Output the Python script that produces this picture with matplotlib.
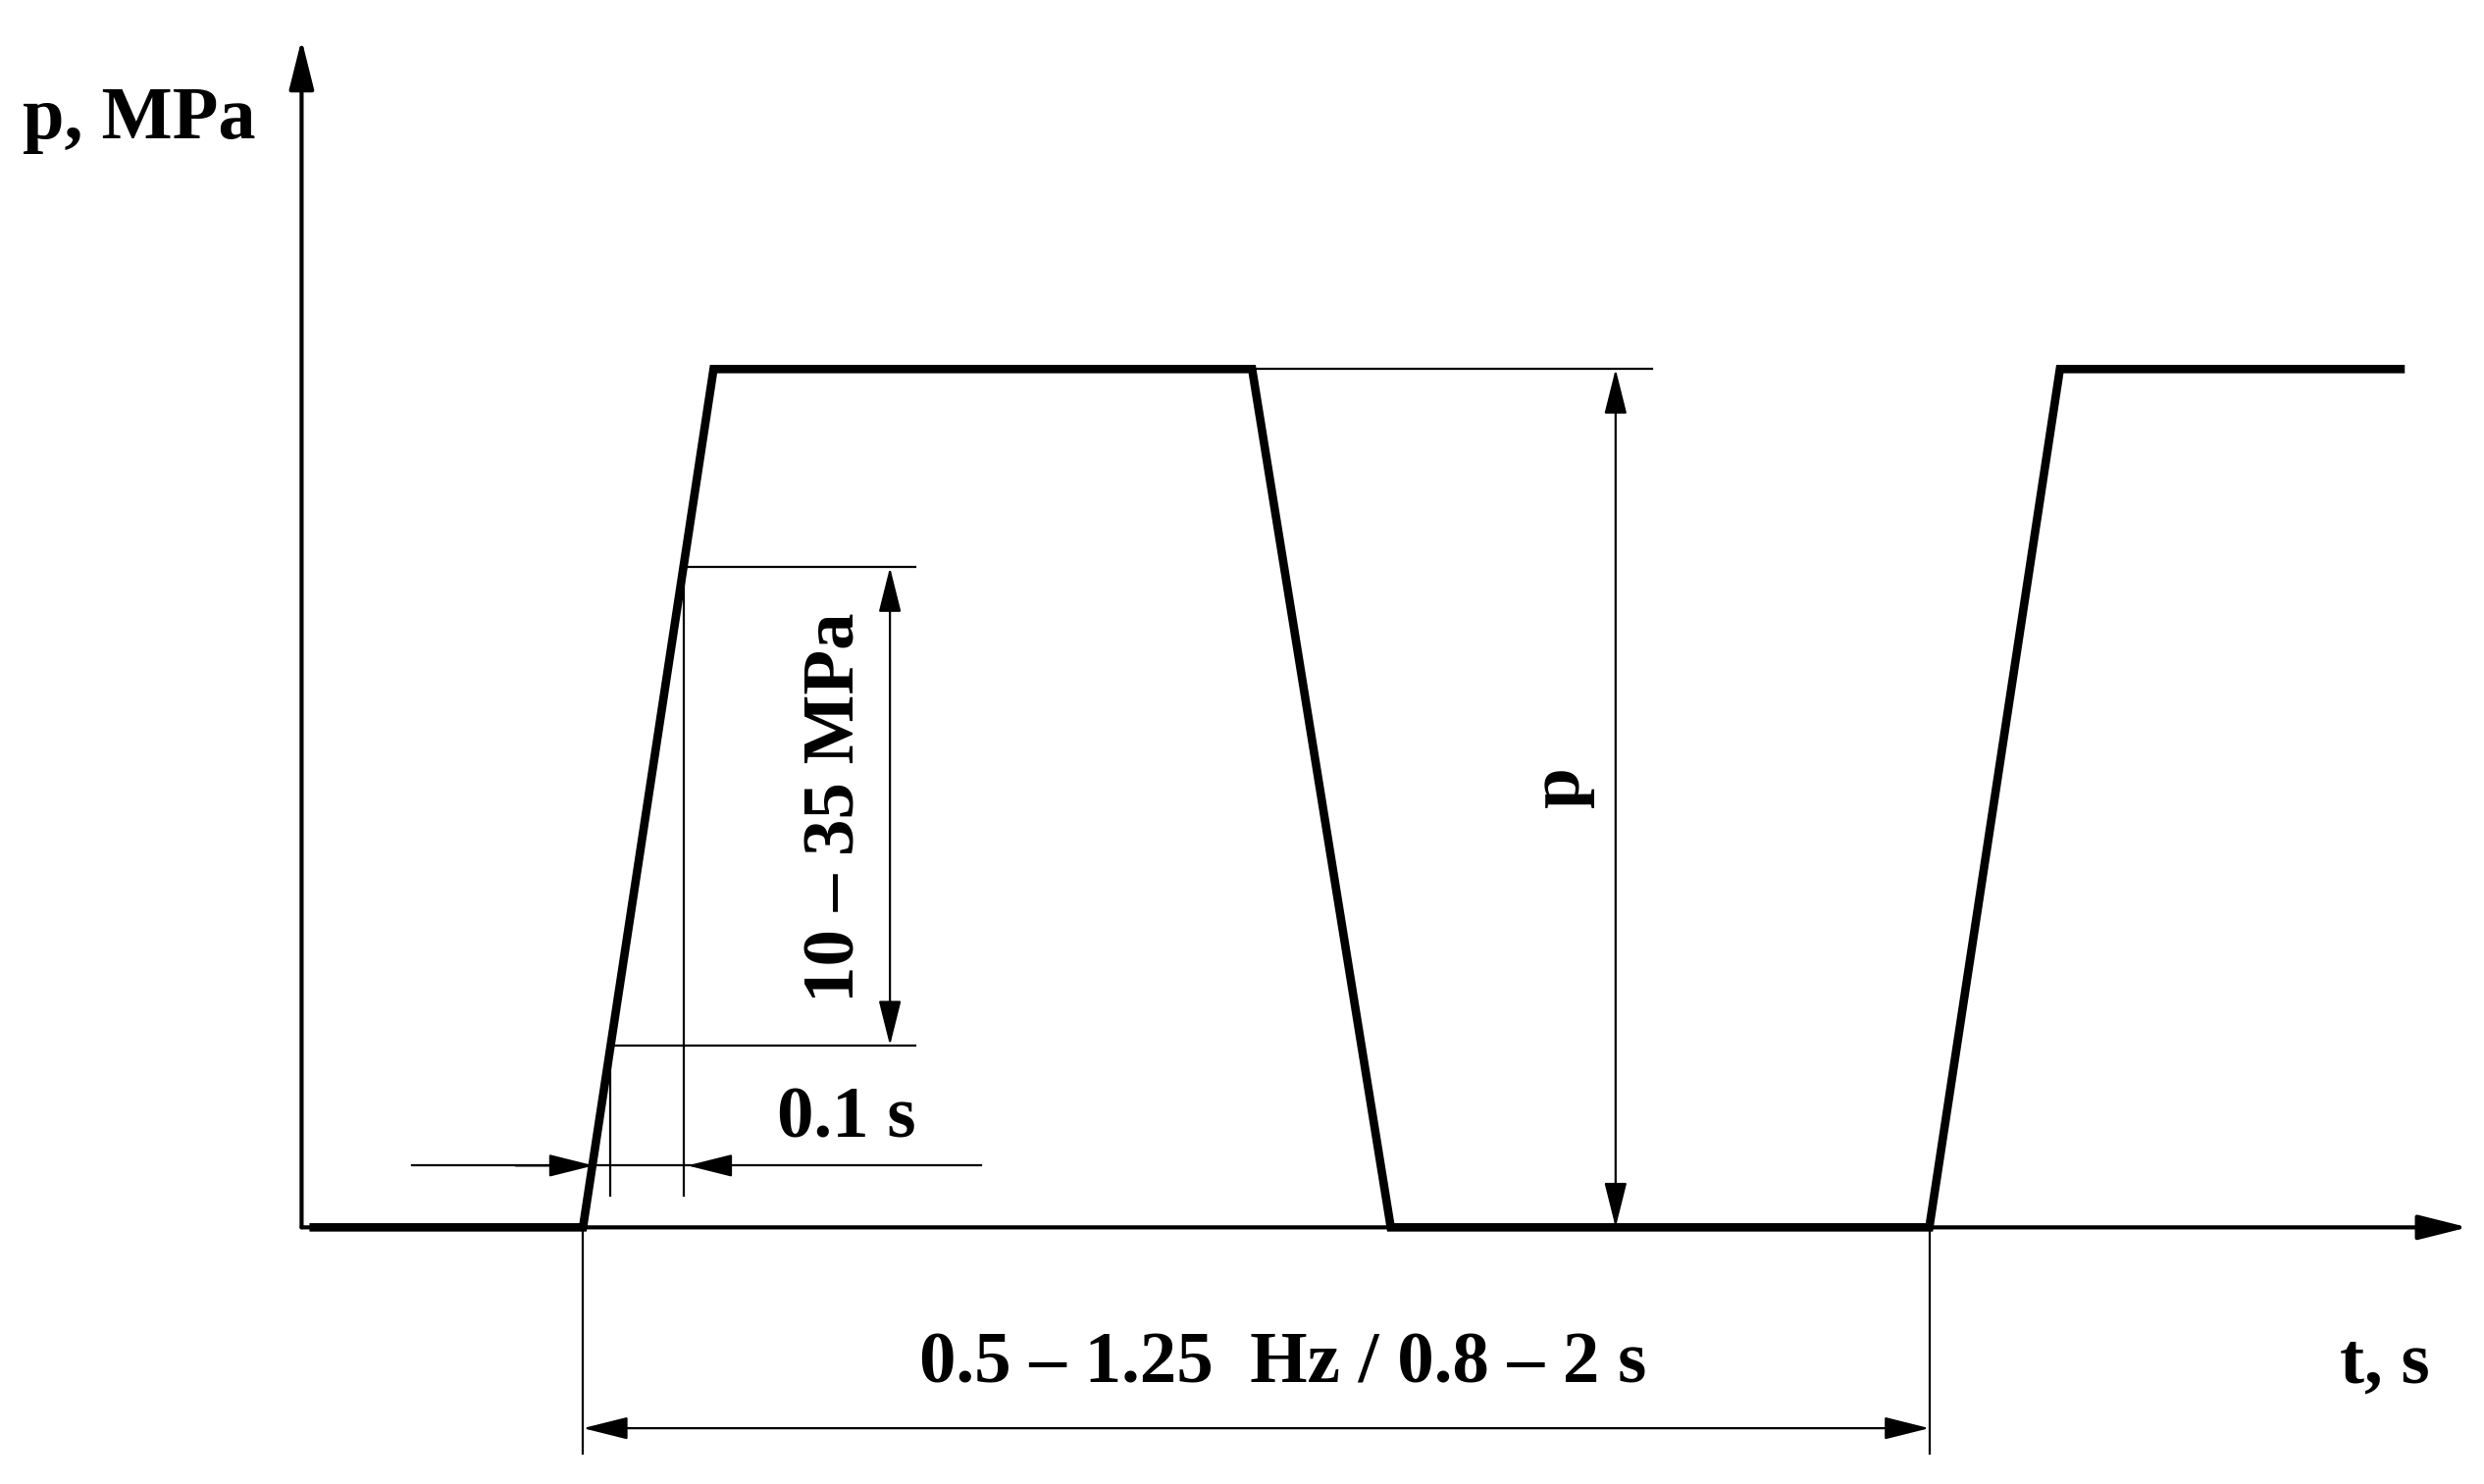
import matplotlib
matplotlib.use("Agg")
from matplotlib import pyplot as plt

# pressure cycle (time normalised to one period, pressure normalised to p)
t_cycle = [-0.20, 0.0, 0.097, 0.497, 0.60, 1.0, 1.097, 1.35]
p_cycle = [0, 0, 1, 1, 0, 0, 1, 1]

# ramp section marked by the 10-35 MPa dimension
p_low, p_high = 0.212, 0.769
t_low = t_cycle[1] + p_low * (t_cycle[2] - t_cycle[1])
t_high = t_cycle[1] + p_high * (t_cycle[2] - t_cycle[1])

label_y = "p, MPa"
label_x = "t, s"
label_range = "10 – 35 MPa"
label_rise = "0.1 s"
label_p = "p"
label_period = "0.5 – 1.25  Hz / 0.8 – 2 s"

plt.rcParams['font.family'] = ['Liberation Serif', 'DejaVu Serif']
plt.rcParams['font.weight'] = 'bold'

fig = plt.figure(figsize=(25.32, 15.13), dpi=100)
ax = fig.add_axes([0, 0, 1, 1])
ax.set_xlim(-0.433, 1.412)
ax.set_ylim(-0.299, 1.430)
ax.axis('off')

thin = 1.6
head = "-|>,head_length=2.6,head_width=0.65"
head2 = "<|-|>,head_length=2.6,head_width=0.65"

def arrow(x0, y0, x1, y1, style=head, lw=thin, ms=11):
    ax.annotate("", xy=(x1, y1), xytext=(x0, y0),
                arrowprops=dict(arrowstyle=style, color='black', lw=lw,
                                shrinkA=0, shrinkB=0, mutation_scale=ms))

# axes
arrow(-0.209, 0, -0.209, 1.384, lw=3.0, ms=12)
arrow(-0.209, 0, 1.400, 0, lw=3.0, ms=12)

# signal
ax.plot(t_cycle, p_cycle, color='black', lw=6.2, solid_joinstyle='miter', zorder=3)

# 10-35 MPa dimension
ax.plot([t_high, 0.247], [p_high, p_high], color='black', lw=thin)
ax.plot([t_low, 0.247], [p_low, p_low], color='black', lw=thin)
arrow(0.228, p_low, 0.228, p_high, style=head2)
ax.text(0.188, 0.489, label_range, rotation=90, ha='center', va='center', fontsize=54)

# 0.1 s dimension
ax.plot([t_low, t_low], [p_low, 0.037], color='black', lw=thin)
ax.plot([t_high, t_high], [p_high, 0.037], color='black', lw=thin)
ax.plot([-0.127, 0.296], [0.072, 0.072], color='black', lw=thin)
arrow(-0.05, 0.072, 0.008, 0.072)
arrow(0.11, 0.072, t_high + 0.003, 0.072)
ax.text(0.196, 0.125, label_rise, ha='center', va='center', fontsize=54)

# p dimension
ax.plot([t_cycle[3], 0.794], [1, 1], color='black', lw=thin)
arrow(0.767, 0, 0.767, 1, style=head2)
ax.text(0.726, 0.513, label_p, rotation=90, ha='center', va='center', fontsize=54)

# period dimension
ax.plot([0, 0], [0, -0.264], color='black', lw=thin)
ax.plot([1, 1], [0, -0.264], color='black', lw=thin)
arrow(0, -0.234, 1, -0.234, style=head2)
ax.text(0.52, -0.16, label_period, ha='center', va='center', fontsize=54)

ax.text(1.338, -0.16, label_x, ha='center', va='center', fontsize=54)
ax.text(-0.33, 1.29, label_y, ha='center', va='center', fontsize=55)

fig.savefig("out.png", dpi=100, facecolor='white')
